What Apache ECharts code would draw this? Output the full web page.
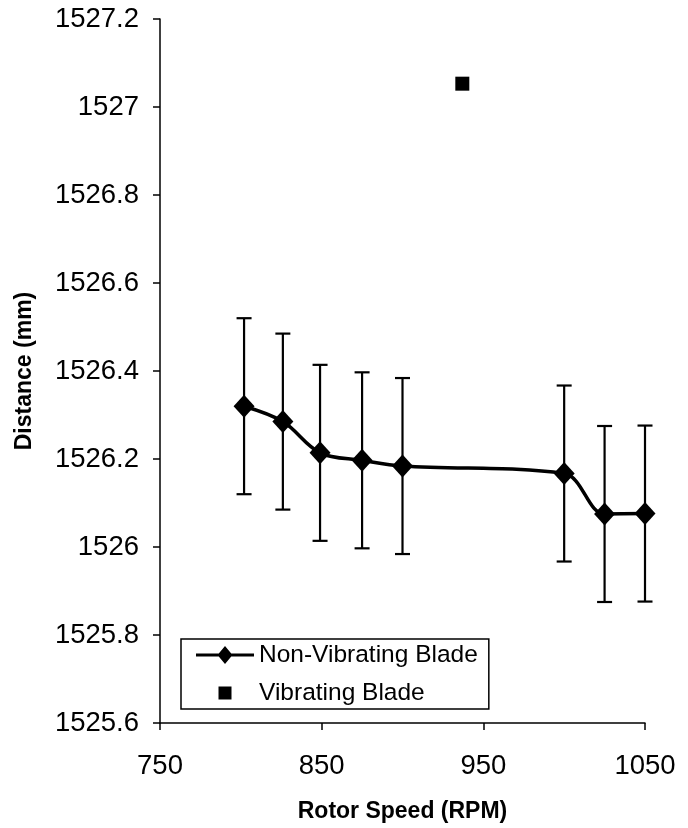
<!DOCTYPE html>
<html>
<head>
<meta charset="utf-8">
<script src="https://cdn.jsdelivr.net/npm/echarts@6/dist/echarts.min.js"></script>
<style>
html,body{margin:0;padding:0;background:#fff;}
#chart{width:688px;height:828px;}
</style>
</head>
<body>
<div id="chart"></div>
<script>
// Data
var rotorSpeed = [802, 826, 849, 875, 900, 1000, 1025, 1050];
var distance = [1526.32, 1526.285, 1526.214, 1526.197, 1526.184, 1526.167, 1526.075, 1526.076];
var errorAmount = [0.2, 0.2, 0.2, 0.2, 0.2, 0.2, 0.2, 0.2];
var vibSpeed = [937];
var vibDistance = [1527.053];
var xTicks = [750, 850, 950, 1050];
var yTicks = [1525.6, 1525.8, 1526, 1526.2, 1526.4, 1526.6, 1526.8, 1527, 1527.2];

var FONT = "'Liberation Sans', Arial, sans-serif";

var lineData = rotorSpeed.map(function (x, i) { return [x, distance[i]]; });
var errData = rotorSpeed.map(function (x, i) { return [x, distance[i] - errorAmount[i], distance[i] + errorAmount[i]]; });
var vibData = vibSpeed.map(function (x, i) { return [x, vibDistance[i]]; });

// legend icons (line with diamond; small square)
var lineIcon = 'path://M0,7.5L22.75,7.5L29,0L35.25,7.5L58,7.5L58,10.5L35.25,10.5L29,18L22.75,10.5L0,10.5Z';
var squareIcon = 'path://M0,0M18,18M2.5,2.5L15.5,2.5L15.5,15.5L2.5,15.5Z';

var chart = echarts.init(document.getElementById('chart'), null, {renderer: 'canvas'});
chart.setOption({
  animation: false,
  backgroundColor: '#fff',
  grid: {left: 160, right: 43, top: 19, bottom: 98, containLabel: false},
  xAxis: {
    type: 'value',
    min: xTicks[0], max: xTicks[xTicks.length - 1], interval: 100,
    name: 'Rotor Speed (RPM)', nameLocation: 'middle', nameGap: 77,
    nameTextStyle: {fontFamily: FONT, fontSize: 23, fontWeight: 'bold', color: '#000'},
    axisLine: {lineStyle: {color: '#000', width: 1.5}},
    axisTick: {show: true, length: 7, inside: false, lineStyle: {color: '#000', width: 1.5}},
    axisLabel: {fontFamily: FONT, fontSize: 27.5, color: '#000', margin: 29,
      formatter: function (v) { return String(v); }},
    splitLine: {show: false}
  },
  yAxis: {
    type: 'value',
    min: yTicks[0], max: yTicks[yTicks.length - 1], interval: 0.2,
    name: 'Distance (mm)', nameLocation: 'middle', nameGap: 124,
    nameTextStyle: {fontFamily: FONT, fontSize: 23, fontWeight: 'bold', color: '#000'},
    axisLine: {show: true, lineStyle: {color: '#000', width: 1.5}},
    axisTick: {show: true, length: 7, inside: false, lineStyle: {color: '#000', width: 1.5}},
    axisLabel: {fontFamily: FONT, fontSize: 27.5, color: '#000', margin: 21,
      formatter: function (v) { return String(Math.round(v * 10) / 10); }},
    splitLine: {show: false}
  },
  legend: {
    orient: 'vertical',
    left: 181, top: 639,
    backgroundColor: '#fff',
    borderColor: '#000', borderWidth: 1.5,
    padding: [2, 11, 2, 15],
    itemGap: 10,
    itemWidth: 58, itemHeight: 18,
    textStyle: {fontFamily: FONT, fontSize: 24.5, color: '#000', lineHeight: 28},
    data: [
      {name: 'Non-Vibrating Blade', icon: lineIcon, itemStyle: {color: '#000', opacity: 1}},
      {name: 'Vibrating Blade', icon: squareIcon, itemStyle: {color: '#000', opacity: 1}}
    ]
  },
  series: [
    {
      name: 'Error',
      type: 'custom',
      data: errData,
      encode: {x: 0, y: [1, 2]},
      z: 1,
      renderItem: function (params, api) {
        var x = api.value(0);
        var lo = api.coord([x, api.value(1)]);
        var hi = api.coord([x, api.value(2)]);
        var hw = 7.5;
        var st = {stroke: '#000', lineWidth: 2.2};
        return {
          type: 'group',
          children: [
            {type: 'line', shape: {x1: lo[0], y1: lo[1], x2: hi[0], y2: hi[1]}, style: st},
            {type: 'line', shape: {x1: lo[0] - hw, y1: lo[1], x2: lo[0] + hw, y2: lo[1]}, style: st},
            {type: 'line', shape: {x1: hi[0] - hw, y1: hi[1], x2: hi[0] + hw, y2: hi[1]}, style: st}
          ]
        };
      }
    },
    {
      name: 'Non-Vibrating Blade',
      type: 'line',
      data: lineData,
      smooth: 0.35,
      z: 3,
      symbol: 'diamond',
      symbolSize: [21, 23],
      lineStyle: {color: '#000', width: 3.5},
      itemStyle: {color: '#000', opacity: 1}
    },
    {
      name: 'Vibrating Blade',
      type: 'scatter',
      data: vibData,
      symbol: 'rect',
      symbolSize: 14,
      z: 3,
      itemStyle: {color: '#000', opacity: 1}
    }
  ]
});
</script>
</body>
</html>
